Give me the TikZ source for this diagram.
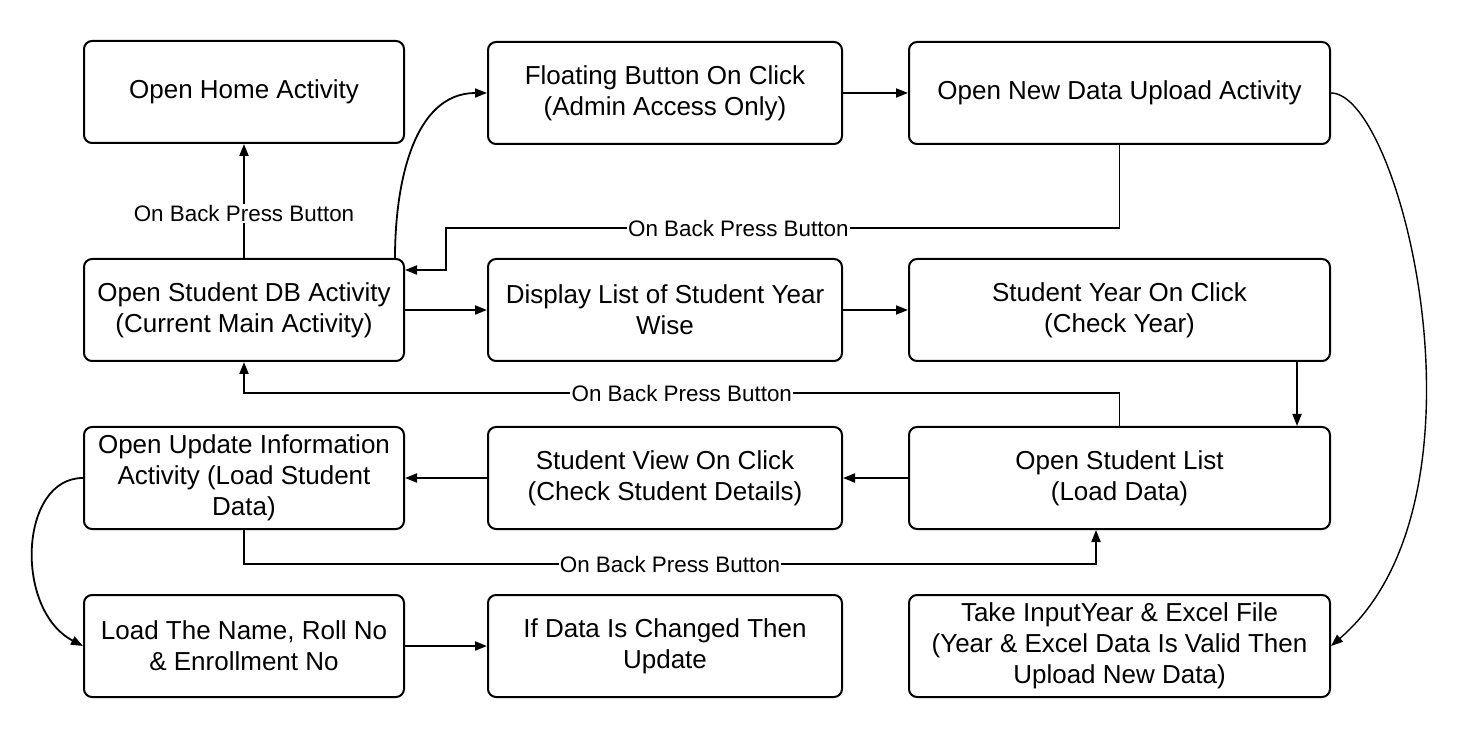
\documentclass[tikz,border=0pt]{standalone}
\usepackage{fontspec}
\setmainfont{Liberation Sans}
\usetikzlibrary{arrows.meta}

\begin{document}
\begin{tikzpicture}[x=0.5pt,y=-0.5pt,
    box/.style={draw,line width=1pt,rounded corners=4pt,minimum height=51pt,
      align=center,inner sep=0pt,font=\fontsize{13}{15.5}\selectfont},
    arr/.style={-{Triangle[length=6pt,width=4.5pt]},line width=0.9pt},
    lbl/.style={fill=white,inner sep=0.6pt,font=\fontsize{11.2}{13}\selectfont}]
  \useasboundingbox (0,0) rectangle (1467,732);

  %% left column
  \node[box,minimum width=160pt] (home) at (244,92) {Open Home Activity};
  \node[box,minimum width=160pt] (db) at (244,310)
  {Open Student DB Activity\\(Current Main Activity)};
  \node[box,minimum width=160pt] (update) at (244,478)
  {Open Update Information\\Activity (Load Student\\Data)};
  \node[box,minimum width=160pt] (load) at (244,646)
  {Load The Name, Roll No\\\& Enrollment No};

  %% middle column
  \node[box,minimum width=177pt] (float) at (665,93)
  {Floating Button On Click\\(Admin Access Only)};
  \node[box,minimum width=177pt] (display) at (665,310)
  {Display List of Student Year\\Wise};
  \node[box,minimum width=177pt] (view) at (665,478)
  {Student View On Click\\(Check Student Details)};
  \node[box,minimum width=177pt] (ifdata) at (665,646)
  {If Data Is Changed Then\\Update};

  %% right column
  \node[box,minimum width=210.5pt] (newdata) at (1119.5,93)
  {Open New Data Upload Activity};
  \node[box,minimum width=210.5pt] (year) at (1119.5,310)
  {Student Year On Click\\(Check Year)};
  \node[box,minimum width=210.5pt] (list) at (1119.5,478)
  {Open Student List\\(Load Data)};
  \node[box,minimum width=210.5pt] (input) at (1119.5,646)
  {Take InputYear \& Excel File\\(Year \& Excel Data Is Valid Then\\Upload New Data)};

  %% bend points
  \coordinate (bk1) at (446,228);
  \coordinate (bk2) at (244,393);
  \coordinate (bk3) at (244,564);

  %% straight connectors
  \draw[arr] (db.north) -- node[lbl,pos=0.39] {On Back Press Button} (home.south);
  \draw[arr] (float.east) -- (newdata.west);
  \draw[arr] (db.east) -- (display.west);
  \draw[arr] (display.east) -- (year.west);
  \draw[arr] ([xshift=88.75pt]year.south) -- ([xshift=88.75pt]list.north);
  \draw[arr] (list.west) -- (view.east);
  \draw[arr] (view.west) -- (update.east);
  \draw[arr] (load.east) -- (ifdata.west);

  %% back press connectors
  \draw[arr] (newdata.south) -- (newdata.south |- bk1)
  -- node[lbl,pos=0.566] {On Back Press Button} (bk1)
  |- ([yshift=20pt]db.east);
  \draw[arr] (list.north) -- (list.north |- bk2)
  -- node[lbl,pos=0.5] {On Back Press Button} (bk2) -- (db.south);
  \draw[arr] (update.south) -- (bk3)
  -| node[lbl,pos=0.25] {On Back Press Button} ([xshift=-11.75pt]list.south);

  %% curved connectors
  \draw[arr] ([xshift=-5pt]db.north east) to[out=90,in=180] (float.west);
  \draw[arr,line width=0.7pt] (newdata.east) .. controls +(70,0) and +(170,-146) .. (input.east);
  \draw[arr] (update.west) .. controls +(-64,0) and +(-69,-36) .. (load.west);
\end{tikzpicture}
\end{document}
